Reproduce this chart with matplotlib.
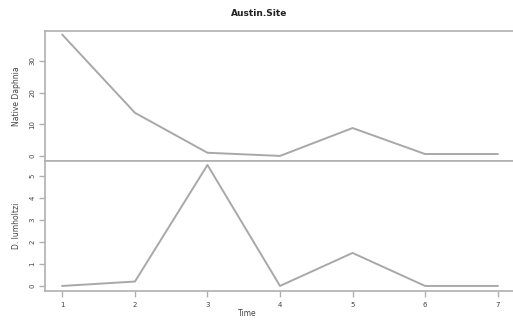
import matplotlib.pyplot as plt

time = [1, 2, 3, 4, 5, 6, 7]
native_daphnia = [38.2, 13.6, 1.0, 0.0, 8.8, 0.6, 0.6]
d_lumholtzi = [0.0, 0.2, 5.5, 0.0, 1.5, 0.0, 0.0]

W, H = 513, 322
fig = plt.figure(figsize=(W / 100, H / 100), dpi=100)

def px(l, t, r, b):
    return [l / W, 1 - b / H, (r - l) / W, (b - t) / H]

ax1 = fig.add_axes(px(45, 31, 515, 161))
ax2 = fig.add_axes(px(45, 161, 515, 291))

line_col = '#a8a8a8'
frame_col = '#b0b0b0'
text_col = '#444444'

for ax, y, lab, ylim, yt in [
        (ax1, native_daphnia, 'Native Daphnia', (-1.6, 39.4), [0, 10, 20, 30]),
        (ax2, d_lumholtzi, 'D. lumholtzi', (-0.23, 5.68), [0, 1, 2, 3, 4, 5])]:
    ax.plot(time, y, color=line_col, lw=1.4)
    ax.set_xlim(0.76, 7.24)
    ax.set_ylim(*ylim)
    ax.set_yticks(yt)
    ax.set_yticklabels([str(v) for v in yt], rotation=90, va='center',
                       fontsize=5, color=text_col)
    ax.set_ylabel(lab, fontsize=5.5, color=text_col, labelpad=6)
    for s in ax.spines.values():
        s.set_color(frame_col)
        s.set_linewidth(1.2)
    ax.spines['right'].set_visible(False)
    ax.tick_params(axis='y', colors=frame_col, length=4, width=1, pad=3,
                   labelcolor=text_col)

ax1.set_xticks([])
ax2.set_xticks(time)
ax2.set_xticklabels([str(t) for t in time], fontsize=5, color=text_col)
ax2.tick_params(axis='x', colors=frame_col, length=4, width=1, pad=4,
                labelcolor=text_col)
fig.text(247 / W, 1 - 313 / H, 'Time', ha='center', va='center',
         fontsize=5.5, color=text_col)

fig.text(0.505, 1 - 14 / H, 'Austin.Site', ha='center', va='center',
         fontsize=6.5, fontweight='bold', color='#222222')

fig.savefig('out.png', dpi=100)
